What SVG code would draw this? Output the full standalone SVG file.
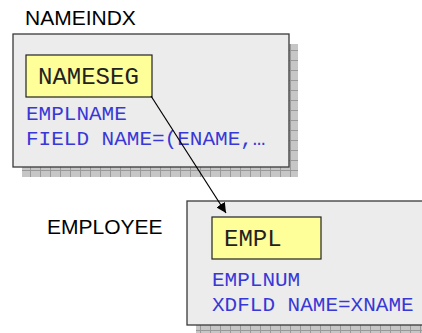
<svg xmlns="http://www.w3.org/2000/svg" width="422" height="333" viewBox="0 0 422 333">
  <style>
    .label { font-family: "Liberation Sans", Arial, sans-serif; font-size: 21px; fill: #000; }
    .seg { fill: #ffff99; stroke: #222; stroke-width: 1.2; }
    .segtext { font-family: "Courier New", "Liberation Mono", monospace; font-size: 24px; fill: #222; }
    .field { font-family: "Courier New", "Liberation Mono", monospace; font-size: 21px; fill: #3838d6; }
    .box { fill: #ececec; stroke: #3a3a3a; stroke-width: 1.3; }
    .shadow { fill: url(#grid); }
    .conn { stroke: #000; stroke-width: 1.2; fill: none; }
  </style>
  <defs>
    <pattern id="grid" x="0" y="0" width="10" height="10" patternUnits="userSpaceOnUse">
      <rect width="10" height="10" fill="#c6c6c6"/>
      <path d="M0 0.5H10M0.5 0V10" stroke="#999" stroke-width="1"/>
    </pattern>
    <marker id="arrow" viewBox="0 0 10 10" refX="10" refY="5" markerWidth="10" markerHeight="10" markerUnits="userSpaceOnUse" orient="auto">
      <path d="M0 0L10 5L0 10z" fill="#000"/>
    </marker>
  </defs>

  <!-- index database -->
  <g id="nameindx">
    <text class="label" x="25" y="25">NAMEINDX</text>
    <rect class="shadow" x="22" y="44" width="276" height="133"/>
    <rect class="box" x="13" y="34" width="276" height="133"/>
    <g id="nameseg">
      <rect class="seg" x="26" y="55" width="126" height="42"/>
      <text class="segtext" x="38" y="84">NAMESEG</text>
    </g>
    <text class="field" x="26" y="120">EMPLNAME</text>
    <text class="field" x="26" y="145">FIELD NAME=(ENAME,…</text>
  </g>

  <!-- target database -->
  <g id="employee">
    <text class="label" x="47" y="234">EMPLOYEE</text>
    <rect class="shadow" x="196" y="211" width="240" height="130"/>
    <rect class="box" x="187" y="201" width="240" height="124"/>
    <g id="empl">
      <rect class="seg" x="212" y="217" width="109" height="42"/>
      <text class="segtext" x="224" y="246">EMPL</text>
    </g>
    <text class="field" x="212" y="286">EMPLNUM</text>
    <text class="field" x="212" y="311">XDFLD NAME=XNAME</text>
  </g>

  <g id="connectors">
    <line class="conn" x1="151" y1="96" x2="226" y2="213" marker-end="url(#arrow)"/>
  </g>
</svg>
